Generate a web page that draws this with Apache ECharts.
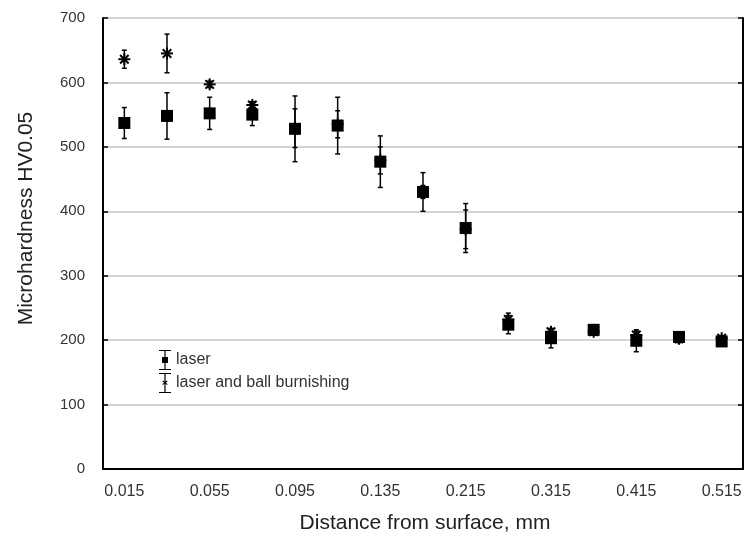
<!DOCTYPE html>
<html><head><meta charset="utf-8">
<script src="https://cdn.jsdelivr.net/npm/echarts@6/dist/echarts.min.js"></script>
<style>html,body{margin:0;padding:0;background:#fff}#c{width:745px;height:544px}</style>
</head><body><div id="c"></div>
<script>
const categories = ['0.015','0.035','0.055','0.075','0.095','0.115','0.135','0.175','0.215','0.265','0.315','0.365','0.415','0.465','0.515'];
const laserMean = [537, 548, 552, 550, 528, 533, 477, 430, 374, 224, 203, 216, 199, 205, 198];
const laserErr  = [24, 36, 25, 17, 51, 44, 40, 30, 38, 14, 15, 8, 17, 8, 5];
const burnMean  = [636, 645, 597, 565, 529, 535, 479, 430, 372, 232, 213, 213, 208, 202, 203];
const burnErr   = [14, 30, 5, 5, 30, 21, 21, 10, 30, 10, 5, 5, 6, 6, 4];
const yTicks = [0, 100, 200, 300, 400, 500, 600, 700];

const font = 'Liberation Sans, Arial, sans-serif';
const errData = (m, e) => m.map((v, i) => [i, v - e[i], v + e[i]]);

function errRender(params, api) {
  const x = api.coord([api.value(0), api.value(1)])[0];
  const lo = api.coord([api.value(0), api.value(1)])[1];
  const hi = api.coord([api.value(0), api.value(2)])[1];
  const c = 2.5;
  const st = {stroke: '#000', lineWidth: 1.5};
  return {type: 'group', children: [
    {type: 'line', shape: {x1: x, y1: lo, x2: x, y2: hi}, style: st},
    {type: 'line', shape: {x1: x - c, y1: lo, x2: x + c, y2: lo}, style: st},
    {type: 'line', shape: {x1: x - c, y1: hi, x2: x + c, y2: hi}, style: st}
  ]};
}
function starRender(params, api) {
  const p = api.coord([api.value(0), api.value(1)]);
  const r = 6;
  const st = {stroke: '#000', lineWidth: 2};
  const ch = [];
  for (let k = 0; k < 4; k++) {
    const a = k * Math.PI / 4;
    ch.push({type: 'line', shape: {x1: p[0] - r * Math.sin(a), y1: p[1] - r * Math.cos(a), x2: p[0] + r * Math.sin(a), y2: p[1] + r * Math.cos(a)}, style: st});
  }
  return {type: 'group', children: ch};
}

const iconLaser = 'path://M0,0H12V1H6.6V7H9V13H6.6V19H12V20H0V19H5.4V13H3V7H5.4V1H0Z';
const iconBurn = 'path://M0,0H12V1H6.6V8.6L8,7.5L8.6,8.2L7,9.7L8.6,11.2L8,11.9L6.6,10.8V19H12V20H0V19H5.4V10.8L4,11.9L3.4,11.2L5,9.7L3.4,8.2L4,7.5L5.4,8.6V1H0Z';

const chart = echarts.init(document.getElementById('c'), null, {renderer: 'canvas'});
chart.setOption({
  animation: false,
  backgroundColor: '#fff',
  grid: {left: 103, right: 2, top: 18, bottom: 75},
  legend: {
    orient: 'vertical', left: 154, top: 345, itemWidth: 12, itemHeight: 20, itemGap: 3,
    textStyle: {fontFamily: font, fontSize: 16, color: '#333'},
    data: [{name: 'laser', icon: iconLaser}, {name: 'laser and ball burnishing', icon: iconBurn}]
  },
  xAxis: [{
    type: 'category', data: categories, boundaryGap: true,
    name: 'Distance from surface, mm', nameLocation: 'middle', nameGap: 44,
    nameTextStyle: {fontFamily: font, fontSize: 21, color: '#222', padding: [0, 0, 0, 4]},
    axisLine: {lineStyle: {color: '#000', width: 2}},
    axisTick: {inside: true, alignWithLabel: true, interval: 0, length: 6, lineStyle: {color: '#000', width: 1.5}},
    axisLabel: {interval: 1, margin: 15, fontFamily: font, fontSize: 16, color: '#333'},
    splitLine: {show: false}
  }, {
    type: 'category', data: categories, position: 'top', boundaryGap: true,
    axisLine: {lineStyle: {color: '#000', width: 2}},
    axisTick: {inside: true, alignWithLabel: true, interval: 0, length: 6, lineStyle: {color: '#000', width: 1.5}},
    axisLabel: {show: false}, splitLine: {show: false}
  }],
  yAxis: [{
    type: 'value', min: yTicks[0], max: yTicks[yTicks.length - 1], interval: 100,
    name: 'Microhardness HV0.05', nameLocation: 'middle', nameGap: 66,
    nameTextStyle: {fontFamily: font, fontSize: 21, color: '#222', padding: [0, 0, 0, 50]},
    axisLine: {show: true, lineStyle: {color: '#000', width: 2}},
    axisTick: {show: true, inside: true, length: 5, lineStyle: {color: '#000', width: 1.5}},
    axisLabel: {margin: 18, fontFamily: font, fontSize: 15, color: '#333'},
    splitLine: {show: true, lineStyle: {color: '#d4d4d4', width: 2}}
  }, {
    type: 'value', position: 'right', min: yTicks[0], max: yTicks[yTicks.length - 1], interval: 100,
    axisLine: {show: true, lineStyle: {color: '#000', width: 2}},
    axisTick: {show: true, inside: true, length: 5, lineStyle: {color: '#000', width: 1.5}},
    axisLabel: {show: false}, splitLine: {show: false}
  }],
  series: [
    {name: 'laser and ball burnishing', type: 'custom', renderItem: errRender, data: errData(burnMean, burnErr), itemStyle: {color: '#000'}, z: 2},
    {name: 'laser', type: 'custom', renderItem: errRender, data: errData(laserMean, laserErr), itemStyle: {color: '#000'}, z: 2},
    {name: 'laser and ball burnishing', type: 'custom', renderItem: starRender, data: burnMean.map((v, i) => [i, v]), itemStyle: {color: '#000'}, z: 3},
    {name: 'laser', type: 'scatter', symbol: 'rect', symbolSize: 12, data: laserMean.map((v, i) => [i, v]), itemStyle: {color: '#000', opacity: 1}, z: 4}
  ]
});
</script></body></html>
